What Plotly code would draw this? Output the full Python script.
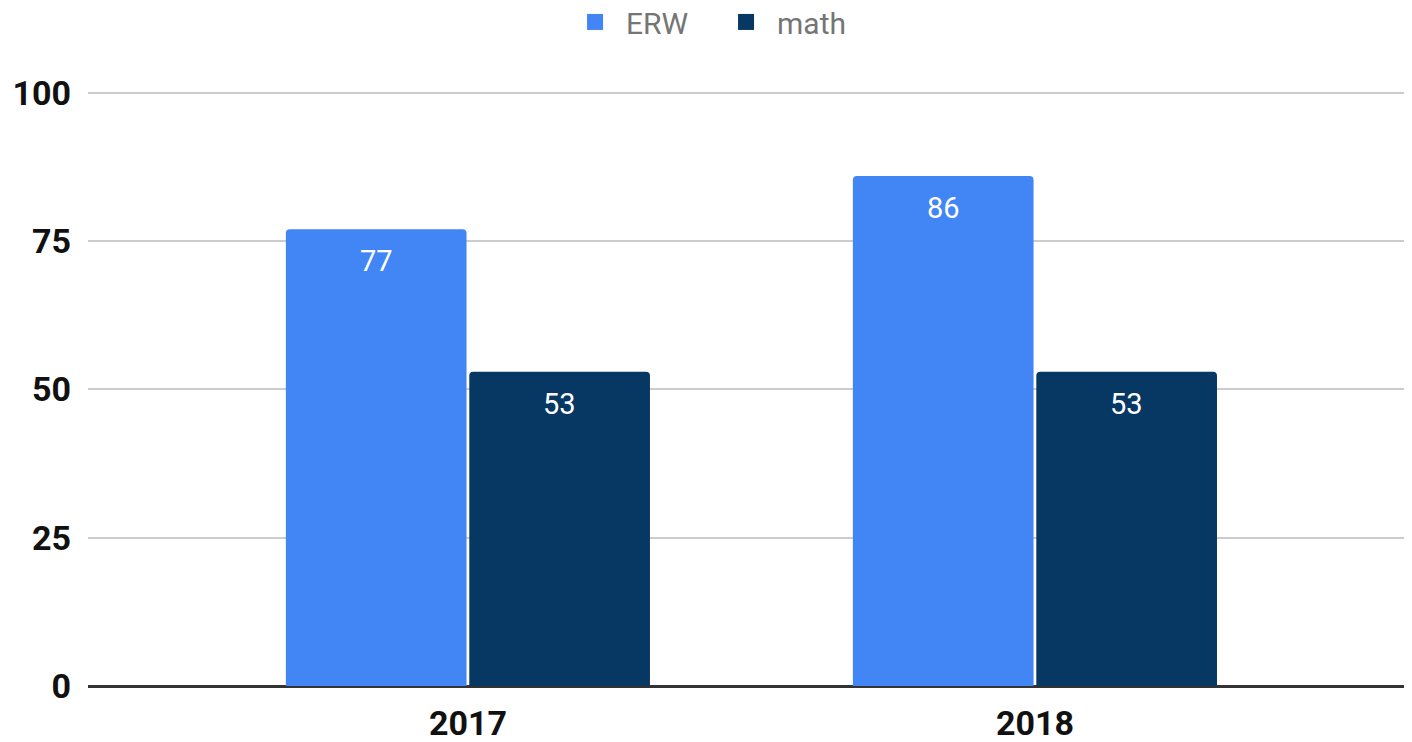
import plotly.graph_objects as go

years = ["2017", "2018"]
erw = [77, 86]
math_scores = [53, 53]
series_names = ["ERW", "math"]
colors = ["#4285F4", "#073763"]
y_ticks = [0, 25, 50, 75, 100]

fig = go.Figure()
for name, vals, col in zip(series_names, [erw, math_scores], colors):
    fig.add_trace(go.Bar(
        name=name, x=years, y=vals, marker_color=col,
        marker_line_width=0, hoverinfo="skip",
        legendgroup=name, showlegend=False,
    ))
    # legend entry with a larger square swatch
    fig.add_trace(go.Scatter(
        name=name, x=[None], y=[None], mode="markers",
        marker=dict(symbol="square", size=16, color=col),
        legendgroup=name, showlegend=True, hoverinfo="skip",
    ))

# data labels placed inside the bar tops
slot_px = 91.75
for vals, sign in [(erw, -1), (math_scores, 1)]:
    for idx, v in enumerate(vals):
        fig.add_annotation(
            x=idx, y=v, text=str(v), showarrow=False,
            xref="x", yref="y",
            xshift=sign * slot_px, yshift=-32, yanchor="middle",
            font=dict(family="Roboto", size=29, color="white"),
        )

fig.update_layout(
    width=1404, height=734,
    margin=dict(l=80, r=0, t=82, b=56),
    paper_bgcolor="white", plot_bgcolor="white",
    barmode="group", bargap=0.353, bargroupgap=0.015,
    barcornerradius=4,
    font=dict(family="Roboto"),
    showlegend=True,
    legend=dict(
        orientation="h", x=0.5036, xanchor="center", xref="container",
        y=0.981, yanchor="middle", yref="container",
        font=dict(family="Roboto", size=30, color="#757575"),
        itemwidth=52, bgcolor="rgba(0,0,0,0)",
        entrywidth=84, entrywidthmode="pixels",
    ),
    xaxis=dict(
        type="category", range=[-0.670, 1.665], automargin=False,
        showgrid=False, showline=False, zeroline=False,
        tickfont=dict(family="Roboto", size=34, color="#111111", weight="bold"),
        ticks="", ticklabelstandoff=14,
    ),
    yaxis=dict(
        range=[0, 100.5], tickvals=y_ticks, ticktext=[str(t) for t in y_ticks],
        automargin=False,
        showgrid=True, gridcolor="#cccccc", gridwidth=2,
        zeroline=True, zerolinecolor="#333333", zerolinewidth=3,
        showline=False, ticks="", ticklabelstandoff=16,
        tickfont=dict(family="Roboto", size=34, color="#111111", weight="bold"),
    ),
)

fig.write_html("out.html")
